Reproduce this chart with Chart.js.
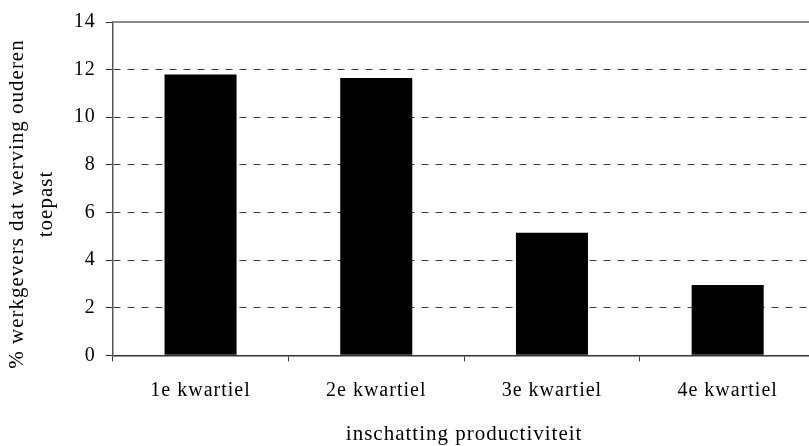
<!DOCTYPE html>
<html>
<head>
<meta charset="utf-8">
<script src="https://cdn.jsdelivr.net/npm/chart.js@4/dist/chart.umd.min.js"></script>
<style>
  html, body { margin: 0; padding: 0; background: #fff; overflow: hidden; }
  canvas { display: block; }
</style>
</head>
<body>
<canvas id="c" width="830" height="446"></canvas>
<script>
const categories = ['1e kwartiel', '2e kwartiel', '3e kwartiel', '4e kwartiel'];
const values = [11.8, 11.65, 5.15, 2.95];
const yTicks = [0, 2, 4, 6, 8, 10, 12, 14];
const yTitle = ['% werkgevers dat werving ouderen', 'toepast'];
const xTitle = 'inschatting productiviteit';

const FONT = "'Liberation Serif', 'Times New Roman', serif";

const spacing = {
  id: 'spacing',
  beforeLayout(c) { c.ctx.letterSpacing = '1px'; },
  beforeDraw(c) { c.ctx.letterSpacing = '1px'; }
};

const topLine = {
  id: 'topLine',
  beforeDatasetsDraw(c) {
    const { ctx, chartArea } = c;
    const y = c.scales.y.getPixelForValue(yTicks[yTicks.length - 1]);
    ctx.save();
    ctx.strokeStyle = '#8a8a8a';
    ctx.lineWidth = 2;
    ctx.beginPath();
    ctx.moveTo(chartArea.left, y);
    ctx.lineTo(chartArea.right, y);
    ctx.stroke();
    ctx.restore();
  }
};

const yTitlePlugin = {
  id: 'yTitlePlugin',
  afterDraw(c) {
    const ctx = c.ctx;
    ctx.save();
    ctx.letterSpacing = '1px';
    ctx.font = "21px " + FONT;
    ctx.fillStyle = '#000';
    ctx.textAlign = 'center';
    ctx.textBaseline = 'alphabetic';
    const cy = 204;
    const baselines = [23, 52];
    yTitle.forEach((line, i) => {
      ctx.save();
      ctx.translate(baselines[i], cy);
      ctx.rotate(-Math.PI / 2);
      ctx.fillText(line, 0, 0);
      ctx.restore();
    });
    ctx.restore();
  }
};

new Chart(document.getElementById('c'), {
  type: 'bar',
  data: {
    labels: categories,
    datasets: [{
      data: values,
      backgroundColor: '#000',
      borderWidth: 0,
      barPercentage: 0.41,
      categoryPercentage: 1.0
    }]
  },
  options: {
    responsive: false,
    animation: false,
    devicePixelRatio: 1,
    layout: { padding: { left: 0, top: 14.3, right: 14.5, bottom: 0 } },
    plugins: { legend: { display: false }, tooltip: { enabled: false } },
    scales: {
      x: {
        offset: true,
        grid: { display: true, drawOnChartArea: false, drawTicks: true, tickLength: 6, tickColor: '#333', offset: true },
        border: { display: true, color: '#333', width: 1.5 },
        ticks: { color: '#000', font: { family: FONT, size: 20 }, padding: 17, maxRotation: 0 },
        title: { display: true, text: xTitle, color: '#000', font: { family: FONT, size: 21, lineHeight: 1.05 }, padding: { top: 0, bottom: 0 } },
        afterFit(s) { s.height = 446 - 355.3; }
      },
      y: {
        min: 0,
        max: 14,
        afterBuildTicks(s) { s.ticks = yTicks.map(v => ({ value: v })); },
        grid: { color: '#3a3a3a', lineWidth: 1, drawTicks: true, tickLength: 7, tickColor: '#333', tickBorderDash: [] },
        border: { display: true, color: '#555', width: 1.5, dash: [7, 7] },
        ticks: { color: '#000', font: { family: FONT, size: 20 }, padding: 10 },
        title: { display: false },
        afterFit(s) { s.width = 112.7; }
      }
    }
  },
  plugins: [spacing, topLine, yTitlePlugin]
});
</script>
</body>
</html>
